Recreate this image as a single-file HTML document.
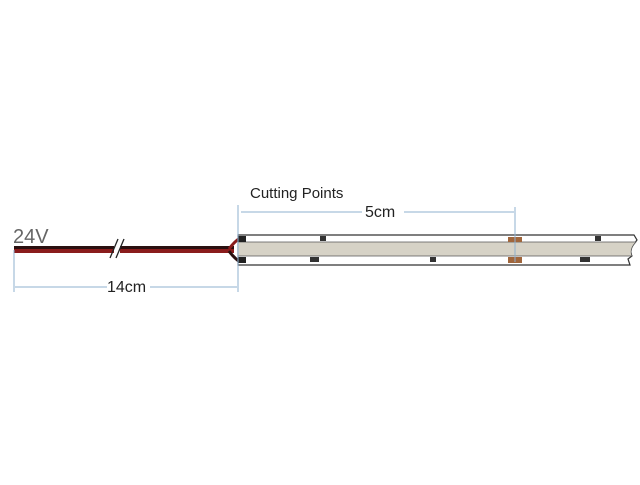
<!DOCTYPE html>
<html><head><style>
body{margin:0;background:#fff;width:640px;height:480px;overflow:hidden}
text{font-family:"Liberation Sans",sans-serif}
</style></head><body>
<svg width="640" height="480" viewBox="0 0 640 480">
<text x="13" y="243" font-size="20" fill="#666">24V</text>
<text x="250" y="198" font-size="15" fill="#222">Cutting Points</text>
<!-- wire -->
<rect x="14" y="246" width="220" height="3" fill="#2a1010"/>
<rect x="14" y="249" width="220" height="4" fill="#8a1c1c"/>
<path d="M229 249 Q234 242 240 238" stroke="#8a1c1c" stroke-width="3" fill="none"/>
<path d="M229 251 Q234 258 240 262" stroke="#2a1010" stroke-width="3" fill="none"/>
<rect x="114" y="245" width="6" height="9" fill="#fff"/>
<line x1="110" y1="258" x2="118" y2="239" stroke="#222" stroke-width="1.3"/>
<line x1="116" y1="258" x2="124" y2="239" stroke="#222" stroke-width="1.3"/>
<!-- strip -->
<path d="M238 235 H634 L637 240 L634 244 Q629 250 632 256 L628 259 L630 265 H238 Z" fill="#fff" stroke="#333" stroke-width="1.2"/>
<path d="M238 242 H636 Q629 249 632 256 H238 Z" fill="#d6d2c6" stroke="#555" stroke-width="0.7"/>
<rect x="238" y="236" width="8" height="6" fill="#222"/>
<rect x="238" y="257" width="8" height="6" fill="#222"/>
<rect x="508" y="237" width="14" height="5" fill="#a0663c"/>
<rect x="508" y="257" width="14" height="6" fill="#a0663c"/>
<g fill="#333">
<rect x="320" y="236" width="6" height="5"/>
<rect x="595" y="236" width="6" height="5"/>
<rect x="310" y="257" width="9" height="5"/>
<rect x="430" y="257" width="6" height="5"/>
<rect x="580" y="257" width="10" height="5"/>
</g>
<!-- dimensions -->
<g stroke="#8fb0cf" stroke-width="1" fill="none">
<line x1="14" y1="250" x2="14" y2="292"/>
<line x1="238" y1="205" x2="238" y2="292"/>
<line x1="15" y1="287" x2="107" y2="287"/>
<line x1="150" y1="287" x2="237" y2="287"/>
<line x1="241" y1="212" x2="362" y2="212"/>
<line x1="404" y1="212" x2="514" y2="212"/>
<line x1="515" y1="207" x2="515" y2="262"/>
</g>
<text x="107" y="292" font-size="16" fill="#222">14cm</text>
<text x="365" y="217" font-size="16" fill="#222">5cm</text>
</svg>
</body></html>
